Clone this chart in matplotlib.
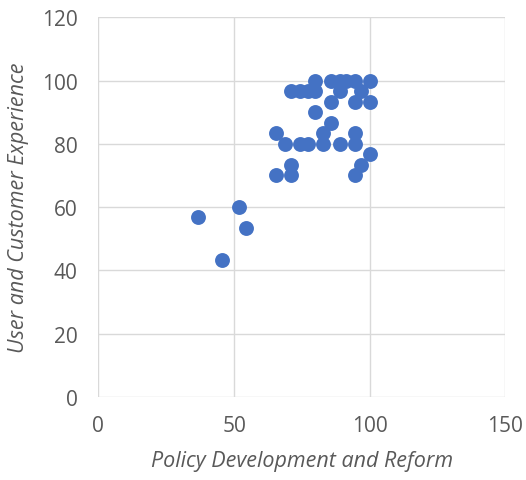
import matplotlib
matplotlib.use("Agg")
import matplotlib.pyplot as plt

plt.rcParams['font.family'] = ['Open Sans', 'DejaVu Sans']

# policy development score vs user experience score
policy = [36.7, 51.7, 54.4, 45.6,
          65.6, 71.1, 71.1, 65.6, 68.9, 74.4, 77.2, 82.8, 82.8, 88.9, 94.4, 94.4,
          100, 96.7, 94.4, 85.6, 80,
          71.1, 74.4, 77.2, 80, 80, 85.6, 88.9, 91.1, 94.4, 100,
          85.6, 88.9, 94.4, 96.7, 100]
user_exp = [56.7, 60, 53.3, 43.3,
            70, 70, 73.3, 83.3, 80, 80, 80, 80, 83.3, 80, 80, 83.3,
            76.7, 73.3, 70, 86.7, 90,
            96.7, 96.7, 96.7, 96.7, 100, 100, 100, 100, 100, 100,
            93.3, 96.7, 93.3, 96.7, 93.3]

fig = plt.figure(figsize=(5.26, 4.81), dpi=100)
ax = fig.add_axes([0.187, 0.173, 0.774, 0.789])

ax.scatter(policy, user_exp, s=115, color='#4472C4', zorder=3, linewidths=0)

ax.set_xlim(0, 150)
ax.set_ylim(0, 120)
ax.set_xticks([0, 50, 100, 150])
ax.set_yticks(range(0, 121, 20))
ax.grid(True, color='#d9d9d9', linewidth=1)
ax.set_axisbelow(True)
for s in ax.spines.values():
    s.set_visible(False)
ax.tick_params(length=0, labelsize=15, colors='#595959')
ax.tick_params(axis='y', pad=15)
ax.tick_params(axis='x', pad=13)

ax.set_xlabel('Policy Development and Reform', fontsize=15.5, style='italic', color='#595959', labelpad=10)
ax.set_ylabel('User and Customer Experience', fontsize=15.5, style='italic', color='#595959', labelpad=9)

fig.savefig('out.png', dpi=100)
